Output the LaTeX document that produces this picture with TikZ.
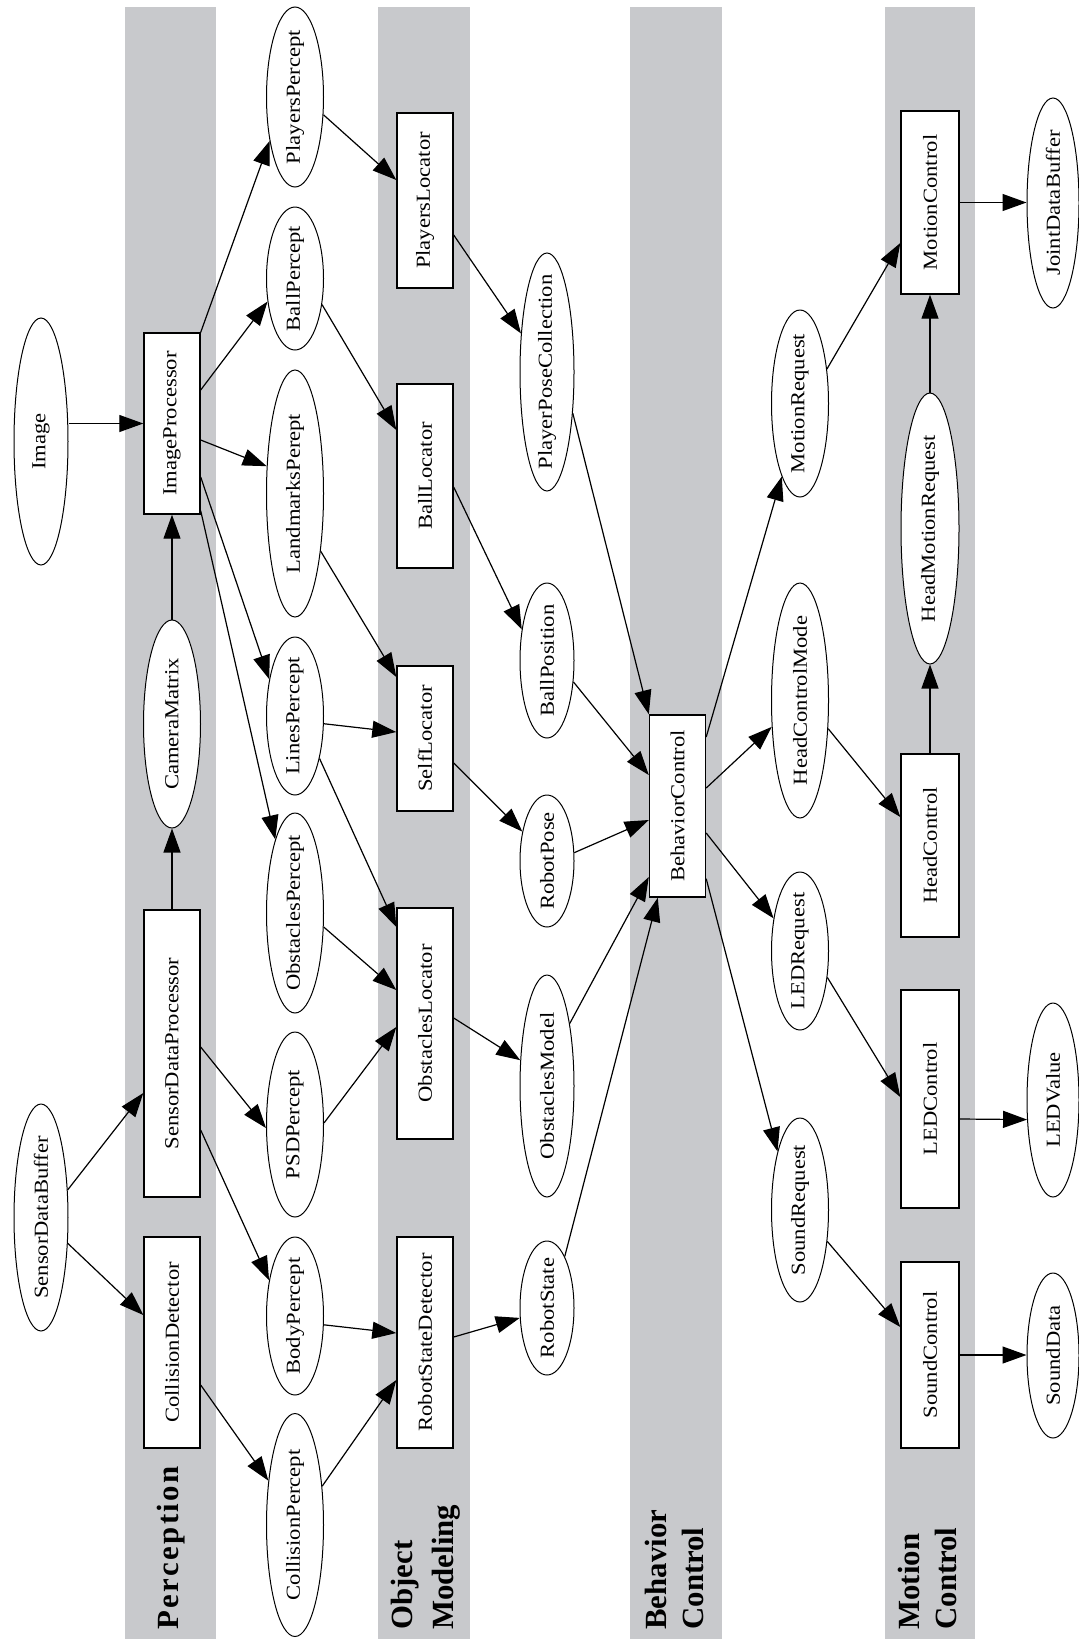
\documentclass[tikz,border=0pt]{standalone}
\usepackage{fontspec}
\setmainfont{Liberation Serif}
\usetikzlibrary{shapes.geometric,arrows.meta,calc}
\definecolor{lanegray}{RGB}{200,201,204}
\newcommand\vt[1]{\rotatebox{90}{\scalebox{1}[0.88]{\makebox[0pt]{#1}}}}
\begin{document}
\begin{tikzpicture}[x=0.5pt,y=-0.5pt,
  box/.style={draw, fill=white, rectangle, inner sep=0pt, line width=0.7pt, font=\fontsize{11.3}{13}\selectfont},
  oval/.style={draw, fill=white, ellipse, inner sep=0pt, line width=0.5pt, font=\fontsize{11.3}{13}\selectfont},
  edge/.style={-{Triangle[length=12pt,width=8.5pt]}, line width=0.6pt},
  lane/.style={fill=lanegray, draw=none},
  lanelabel/.style={rotate=90, anchor=base west, inner sep=0pt, font=\fontsize{15.4}{18}\selectfont\bfseries}]
\fill[white] (0,0) rectangle (1079,1639);
\useasboundingbox (0,0) rectangle (1079,1639);
% lanes
\fill[lane] (125,7) rectangle (216,1639);
\fill[lane] (378,7) rectangle (470,1639);
\fill[lane] (630,7) rectangle (722,1639);
\fill[lane] (885,7) rectangle (975,1639);
% lane labels
\node[lanelabel] (lab1) at (178,1630) {\addfontfeature{LetterSpace=8}Perception};
\node[lanelabel] (lab2a) at (412,1630) {Object};
\node[lanelabel] (lab2b) at (453,1630) {Modeling};
\node[lanelabel] (lab3a) at (666,1630) {Behavior};
\node[lanelabel] (lab3b) at (703,1630) {Control};
\node[lanelabel] (lab4a) at (919,1630) {Motion};
\node[lanelabel] (lab4b) at (956,1630) {Control};
% column 0
\node[oval, minimum width=27pt, minimum height=123.5pt] (img) at (41,441.5) {\vt{Image}};
\node[oval, minimum width=27pt, minimum height=113.5pt] (sdb) at (41,1217.5) {\vt{SensorDataBuffer}};
% column 1
\node[box, minimum width=28pt, minimum height=90.5pt] (ip) at (172,423.5) {\vt{ImageProcessor}};
\node[oval, minimum width=28.5pt, minimum height=104pt] (cm) at (172,724) {\vt{CameraMatrix}};
\node[box, minimum width=28pt, minimum height=143.5pt] (sdp) at (172,1053.5) {\vt{SensorDataProcessor}};
\node[box, minimum width=28pt, minimum height=105.5pt] (cd) at (172,1342.5) {\vt{CollisionDetector}};
% column 2
\node[oval, minimum width=28.5pt, minimum height=90pt] (pp) at (295,97) {\vt{PlayersPercept}};
\node[oval, minimum width=28.5pt, minimum height=71.5pt] (bp) at (295,278.5) {\vt{BallPercept}};
\node[oval, minimum width=28.5pt, minimum height=123.5pt] (lmp) at (295,493.5) {\vt{LandmarksPerept}};
\node[oval, minimum width=28.5pt, minimum height=79pt] (lnp) at (295,716) {\vt{LinesPercept}};
\node[oval, minimum width=28.5pt, minimum height=100pt] (obp) at (295,913) {\vt{ObstaclesPercept}};
\node[oval, minimum width=28.5pt, minimum height=92.5pt] (psd) at (295,1124.5) {\vt{PSDPercept}};
\node[oval, minimum width=28.5pt, minimum height=79pt] (bdp) at (295,1316) {\vt{BodyPercept}};
\node[oval, minimum width=28.5pt, minimum height=111.5pt] (clp) at (295,1525) {\vt{CollisionPercept}};
% column 3
\node[box, minimum width=28pt, minimum height=87.5pt] (pl) at (425,200.5) {\vt{PlayersLocator}};
\node[box, minimum width=28pt, minimum height=92pt] (bl) at (425,476) {\vt{BallLocator}};
\node[box, minimum width=28pt, minimum height=72.5pt] (sl) at (425,738.5) {\vt{SelfLocator}};
\node[box, minimum width=28pt, minimum height=115.5pt] (ol) at (425,1023.5) {\vt{ObstaclesLocator}};
\node[box, minimum width=28pt, minimum height=105.5pt] (rsd) at (425,1342.5) {\vt{RobotStateDetector}};
% column 4
\node[oval, minimum width=27pt, minimum height=119pt] (ppc) at (547,372) {\vt{PlayerPoseCollection}};
\node[oval, minimum width=27pt, minimum height=77.5pt] (bpos) at (547,660.5) {\vt{BallPosition}};
\node[oval, minimum width=27pt, minimum height=66pt] (rp) at (547,861) {\vt{RobotPose}};
\node[oval, minimum width=27pt, minimum height=111pt] (om) at (547,1086) {\vt{ObstaclesModel}};
\node[oval, minimum width=27pt, minimum height=67pt] (rs) at (547,1308) {\vt{RobotState}};
% column 5
\node[box, minimum width=28pt, minimum height=91pt] (bc) at (677.5,806) {\vt{BehaviorControl}};
% column 6
\node[oval, minimum width=28.5pt, minimum height=93.5pt] (mr) at (800,403.5) {\vt{MotionRequest}};
\node[oval, minimum width=28.5pt, minimum height=117.5pt] (hcm) at (800,700.5) {\vt{HeadControlMode}};
\node[oval, minimum width=28.5pt, minimum height=79pt] (lr) at (800,951) {\vt{LEDRequest}};
\node[oval, minimum width=28.5pt, minimum height=92pt] (sr) at (800,1210) {\vt{SoundRequest}};
% column 7
\node[box, minimum width=29pt, minimum height=91.5pt] (mc) at (930,202.5) {\vt{MotionControl}};
\node[oval, minimum width=29pt, minimum height=135.5pt] (hmr) at (930,528.5) {\vt{HeadMotionRequest}};
\node[box, minimum width=29pt, minimum height=91.5pt] (hc) at (930,845.5) {\vt{HeadControl}};
\node[box, minimum width=29pt, minimum height=109pt] (lc) at (930,1099) {\vt{LEDControl}};
\node[box, minimum width=29pt, minimum height=93pt] (sc) at (930,1355) {\vt{SoundControl}};
% column 8
\node[oval, minimum width=26pt, minimum height=105pt] (jdb) at (1053,203) {\vt{JointDataBuffer}};
\node[oval, minimum width=26pt, minimum height=97pt] (lv) at (1053,1100) {\vt{LEDValue}};
\node[oval, minimum width=26pt, minimum height=82.5pt] (sd) at (1053,1355.5) {\vt{SoundData}};
% edges
\draw[edge] (img.east |- ip.west) -- (ip.west);
\draw[edge] (cm.north) -- (ip.south);
\draw[edge] (sdp.north) -- (cm.south);
\draw[edge] (ip.north east) -- (pp.240);
\draw[edge] ($(ip.east)+(0,-33.5)$) -- (bp.220);
\draw[edge] ($(ip.east)+(0,16.5)$) -- (lmp.136);
\draw[edge] ($(ip.east)+(0,53.5)$) -- (lnp.125);
\draw[edge] ($(ip.south east)+(0,-4)$) -- (obp.105);
\draw[edge] (sdb.46) -- ($(sdp.west)+(0,39.5)$);
\draw[edge] (sdb.316) -- ($(cd.west)+(0,-27.5)$);
\draw[edge] ($(sdp.east)+(0,-6.5)$) -- (psd.187);
\draw[edge] ($(sdp.east)+(0,76.5)$) -- (bdp.126);
\draw[edge] ($(cd.east)+(0,42.5)$) -- (clp.121);
\draw[edge] (pp.328) -- ($(pl.west)+(0,-20.5)$);
\draw[edge] (bp.316) -- ($(bl.west)+(0,-46)$);
\draw[edge] (lmp.294) -- ($(sl.west)+(0,-61.5)$);
\draw[edge] (lnp.345) -- ($(sl.west)+(0,-6.5)$);
\draw[edge] (lnp.300) -- ($(ol.west)+(0,-96.5)$);
\draw[edge] (obp.334) -- ($(ol.west)+(0,-33.5)$);
\draw[edge] (psd.3) -- ($(ol.west)+(0,3.5)$);
\draw[edge] (bdp.343) -- ($(rsd.west)+(0,-9.5)$);
\draw[edge] (clp.55) -- ($(rsd.west)+(0,37.5)$);
\draw[edge] ($(pl.east)+(0,34.5)$) -- (ppc.124);
\draw[edge] ($(bl.east)+(0,11)$) -- (bpos.129);
\draw[edge] ($(sl.east)+(0,24.5)$) -- (rp.130);
\draw[edge] ($(ol.east)+(0,-5.5)$) -- (om.136);
\draw[edge] ($(rsd.east)+(0,-5.5)$) -- (rs.200);
\draw[edge] (ppc.302) -- (bc.north west);
\draw[edge] (bpos.321) -- ($(bc.west)+(0,-31)$);
\draw[edge] (rp.17) -- ($(bc.west)+(0,14)$);
\draw[edge] (om.70) -- ($(bc.west)+(0,71)$);
\draw[edge] (rs.71) -- ($(bc.south west)+(9,0)$);
\draw[edge] ($(bc.east)+(0,-69)$) -- (mr.256);
\draw[edge] ($(bc.east)+(0,-18)$) -- (hcm.223);
\draw[edge] ($(bc.east)+(0,27)$) -- (lr.129);
\draw[edge] ($(bc.south east)+(0,-19)$) -- (sr.111);
\draw[edge] (hcm.315) -- ($(hc.west)+(0,-28.5)$);
\draw[edge] (hc.north) -- (hmr.south);
\draw[edge] (hmr.north) -- (mc.south);
\draw[edge] (mr.52) -- ($(mc.west)+(0,40.5)$);
\draw[edge] (mc.east) -- (mc.east -| jdb.west);
\draw[edge] (lr.316) -- ($(lc.west)+(0,-2)$);
\draw[edge] ($(lc.east)+(0,20)$) -- (lv.217);
\draw[edge] (sr.311) -- ($(sc.west)+(0,-28)$);
\draw[edge] (sc.east) -- (sc.east -| sd.west);
\end{tikzpicture}
\end{document}
